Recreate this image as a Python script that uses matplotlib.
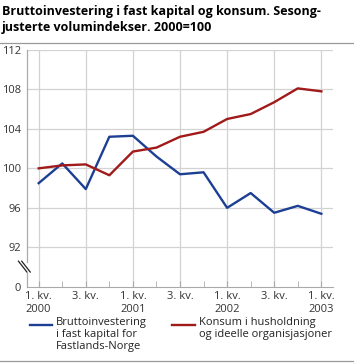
import numpy as np
import matplotlib
matplotlib.use('Agg')
import matplotlib.pyplot as plt
from matplotlib.lines import Line2D

# Kvartaler 2000K1 - 2003K1
kvartal = np.arange(13)
brutto = [98.5, 100.5, 97.9, 103.2, 103.3, 101.2, 99.4, 99.6,
          96.0, 97.5, 95.5, 96.2, 95.4]
konsum = [100.0, 100.3, 100.4, 99.3, 101.7, 102.1, 103.2, 103.7,
          105.0, 105.5, 106.7, 108.1, 107.8]

ytick_pos = [88, 92, 96, 100, 104, 108, 112]   # 88 = brutt akse, vises som 0
ytick_lab = ['0', '92', '96', '100', '104', '108', '112']
xtick_pos = [0, 2, 4, 6, 8, 10, 12]
xtick_lab = ['1. kv.\n2000', '3. kv.', '1. kv.\n2001', '3. kv.',
             '1. kv.\n2002', '3. kv.', '1. kv.\n2003']

blaa = '#1c3f94'
rod = '#a11a1a'
grid = '#d2d2d2'

plt.rcParams['font.family'] = ['Open Sans', 'DejaVu Sans']

fig = plt.figure(figsize=(3.54, 3.64), dpi=100)
ax = fig.add_axes([0.076, 0.212, 0.865, 0.651])

ax.plot(kvartal, brutto, color=blaa, lw=1.7, zorder=3)
ax.plot(kvartal, konsum, color=rod, lw=1.7, zorder=3)

ax.set_xlim(-0.5, 12.5)
ax.set_ylim(88, 112)
ax.set_yticks(ytick_pos)
ax.set_yticklabels(ytick_lab, fontsize=8)
ax.set_xticks(xtick_pos)
ax.set_xticklabels(xtick_lab, fontsize=8)
ax.set_xticks(kvartal, minor=True)
ax.tick_params(axis='y', length=0, pad=4, colors='#333333')
ax.tick_params(axis='x', which='both', direction='in', length=4,
               color='#aaaaaa', pad=3, colors='#333333')
ax.tick_params(axis='x', which='minor', direction='in', length=4, color='#aaaaaa')

for y in ytick_pos[1:]:
    ax.axhline(y, color=grid, lw=0.9, zorder=1)
for x in xtick_pos:
    ax.axvline(x, color=grid, lw=0.9, zorder=1)

for s in ['top', 'right', 'left']:
    ax.spines[s].set_visible(False)
ax.spines['bottom'].set_color('#aaaaaa')

# venstre akse med brudd
ax.plot([-0.5, -0.5], [88, 89.4], color='#aaaaaa', lw=0.9, clip_on=False)
ax.plot([-0.5, -0.5], [90.5, 112], color='#aaaaaa', lw=0.9, clip_on=False)
for dx in (0.0, 0.14):
    ax.plot([-0.86 + dx, -0.5 + dx], [90.6, 89.5], color='#222222', lw=0.9,
            clip_on=False, zorder=4)

fig.text(0.005, 0.985, 'Bruttoinvestering i fast kapital og konsum. Sesong-\njusterte volumindekser. 2000=100',
         ha='left', va='top', fontsize=9.0, fontweight='bold', linespacing=1.3)
fig.add_artist(Line2D([0, 1], [0.882, 0.882], color='#999999', lw=0.9))
fig.add_artist(Line2D([0, 1], [0.008, 0.008], color='#999999', lw=0.9))

fig.add_artist(Line2D([0.085, 0.148], [0.107, 0.107], color=blaa, lw=1.7))
fig.text(0.157, 0.128, 'Bruttoinvestering\ni fast kapital for\nFastlands-Norge',
         ha='left', va='top', fontsize=8, linespacing=1.1, color='#222222')
fig.add_artist(Line2D([0.487, 0.55], [0.107, 0.107], color=rod, lw=1.7))
fig.text(0.563, 0.128, 'Konsum i husholdning\nog ideelle organisjasjoner',
         ha='left', va='top', fontsize=8, linespacing=1.1, color='#222222')

fig.savefig('out.png', dpi=100)
